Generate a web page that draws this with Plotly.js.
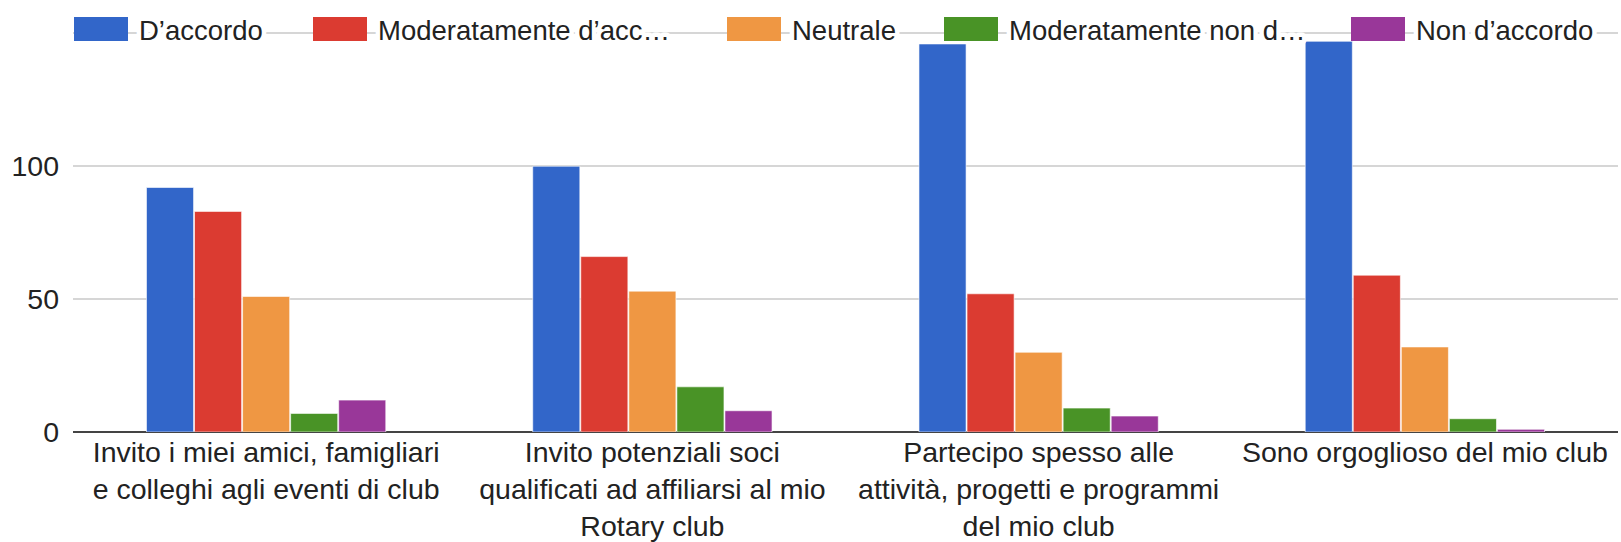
<!DOCTYPE html>
<html>
<head>
<meta charset="utf-8">
<script src="https://cdn.plot.ly/plotly-3.0.1.min.js"></script>
<style>
html,body{margin:0;padding:0;background:#fff}
#chart{width:1621px;height:542px}
.legend .legendlines path{stroke-width:24px !important;stroke-linecap:butt !important}
.legend .legendtext{paint-order:stroke;stroke:#fff;stroke-width:9px;stroke-linejoin:round}
</style>
</head>
<body>
<div id="chart"></div>
<script>
const categories = [
  "Invito i miei amici, famigliari<br>e colleghi agli eventi di club",
  "Invito potenziali soci<br>qualificati ad affiliarsi al mio<br>Rotary club",
  "Partecipo spesso alle<br>attività, progetti e programmi<br>del mio club",
  "Sono orgoglioso del mio club"
];
const seriesNames = ["D’accordo", "Moderatamente d’acc…", "Neutrale", "Moderatamente non d…", "Non d’accordo"];
const dAccordo = [92, 100, 146, 147];
const moderatamenteDAccordo = [83, 66, 52, 59];
const neutrale = [51, 53, 30, 32];
const moderatamenteNonDAccordo = [7, 17, 9, 5];
const nonDAccordo = [12, 8, 6, 1];
const colors = ["#3266c9", "#db3b31", "#ef9743", "#499326", "#993799"];
const yTickVals = [0, 50, 100, 150];
const yTickText = ["0", "50", "100", ""];

// layout-only: left edge (px) of each legend swatch, as in the reference
const legendSwatchLeft = [74, 313, 727, 944, 1351];
const legendTextGap = 11;

const values = [dAccordo, moderatamenteDAccordo, neutrale, moderatamenteNonDAccordo, nonDAccordo];
const traces = values.map((v, i) => ({
  type: "bar",
  x: categories,
  y: v,
  name: seriesNames[i],
  showlegend: false,
  marker: {color: colors[i], line: {color: "rgba(255,255,255,0.6)", width: 1}},
  hoverinfo: "x+y+name"
}));
// legend entries (no data)
seriesNames.forEach((n, i) => traces.push({
  type: "scatter", mode: "lines", x: [null], y: [null],
  name: n, showlegend: true,
  line: {color: colors[i], width: 10}, hoverinfo: "skip"
}));

const FS = 28.5;
const LFS = 27.5;
const layout = {
  width: 1621, height: 542,
  margin: {l: 73, r: 3, t: 32, b: 110},
  paper_bgcolor: "#fff", plot_bgcolor: "#fff",
  font: {family: "Liberation Sans, Arial, sans-serif", size: FS, color: "#222"},
  barmode: "group",
  bargap: 0.378,
  bargroupgap: 0.02,
  showlegend: true,
  legend: {
    orientation: "h", xref: "paper", yref: "paper",
    x: 0, xanchor: "left", y: 1.0075, yanchor: "middle",
    bgcolor: "rgba(0,0,0,0)", itemwidth: 54, font: {size: LFS, color: "#222"},
    traceorder: "normal"
  },
  xaxis: {
    type: "category", showgrid: false, ticks: "", showline: false, zeroline: false,
    tickfont: {size: FS, color: "#222"}, automargin: false
  },
  yaxis: {
    range: [0, 150.5], tickvals: yTickVals, ticktext: yTickText,
    showgrid: true, gridcolor: "#d6d6d6", gridwidth: 2,
    zeroline: true, zerolinecolor: "#444", zerolinewidth: 2,
    showline: false, ticks: "", ticklabelstandoff: 13,
    tickfont: {size: FS, color: "#222"}, automargin: false, fixedrange: true
  }
};
const gd = document.getElementById("chart");
Plotly.newPlot(gd, traces, layout, {displayModeBar: false, staticPlot: true}).then(() => {
  const sb = gd.querySelector(".legend .scrollbox");
  if (sb) sb.removeAttribute("clip-path");
  const items = gd.querySelectorAll(".legend .traces");
  items.forEach((el, i) => {
    const line = el.querySelector(".legendlines path");
    if (!line || legendSwatchLeft[i] === undefined) return;
    const r = line.getBoundingClientRect();
    const delta = legendSwatchLeft[i] - r.left;
    const m = /translate\(\s*([-\d.e]+)[\s,]+([-\d.e]+)\s*\)/.exec(el.getAttribute("transform") || "");
    if (!m) return;
    el.setAttribute("transform", "translate(" + (parseFloat(m[1]) + delta) + "," + m[2] + ")");
    const txt = el.querySelector(".legendtext");
    if (txt) {
      const lr = line.getBoundingClientRect();
      const tr = txt.getBoundingClientRect();
      const d2 = (lr.right + legendTextGap) - tr.left;
      const x0 = parseFloat(txt.getAttribute("x") || "0");
      txt.setAttribute("x", x0 + d2);
      txt.querySelectorAll("tspan[x]").forEach(t => t.setAttribute("x", parseFloat(t.getAttribute("x")) + d2));
    }
  });
});
</script>
</body>
</html>
